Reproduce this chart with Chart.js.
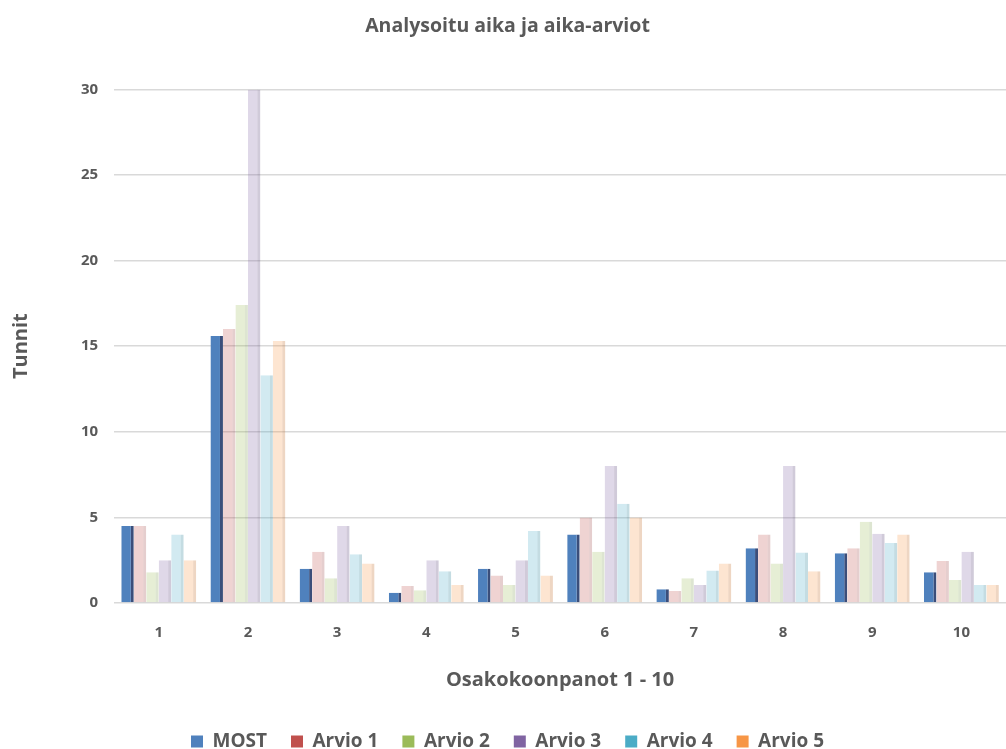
<!DOCTYPE html>
<html>
<head>
<meta charset="utf-8">
<script src="https://cdn.jsdelivr.net/npm/chart.js@4/dist/chart.umd.min.js"></script>
<style>
  html, body { margin: 0; padding: 0; background: #fff; }
  #wrap { width: 1006px; height: 749px; }
</style>
</head>
<body>
<div id="wrap"><canvas id="chart"></canvas></div>
<script>
const CATEGORIES = ['1', '2', '3', '4', '5', '6', '7', '8', '9', '10'];
const MOST   = [4.5, 15.6, 2.0, 0.6, 2.0, 4.0, 0.8, 3.2, 2.9, 1.8];
const ARVIO1 = [4.5, 16.0, 3.0, 1.0, 1.6, 5.0, 0.7, 4.0, 3.2, 2.45];
const ARVIO2 = [1.8, 17.4, 1.45, 0.75, 1.05, 3.0, 1.45, 2.3, 4.75, 1.35];
const ARVIO3 = [2.5, 30.0, 4.5, 2.5, 2.5, 8.0, 1.05, 8.0, 4.05, 3.0];
const ARVIO4 = [4.0, 13.3, 2.85, 1.85, 4.2, 5.8, 1.9, 2.95, 3.5, 1.05];
const ARVIO5 = [2.5, 15.3, 2.3, 1.05, 1.6, 5.0, 2.3, 1.85, 4.0, 1.05];
const Y_TICKS = [0, 5, 10, 15, 20, 25, 30];

const TEXT = '#595959';

// solid colour (legend), pale fill (bars), side colour
const SERIES = [
  { label: 'MOST',    data: MOST,   solid: '#4F81BD', fill: '#4F81BD', side: '#3B4E7A' },
  { label: 'Arvio 1', data: ARVIO1, solid: '#C0504D', fill: 'rgba(192,80,77,0.25)',  side: 'rgba(150,60,58,0.25)' },
  { label: 'Arvio 2', data: ARVIO2, solid: '#9BBB59', fill: 'rgba(155,187,89,0.25)', side: 'rgba(120,150,70,0.25)' },
  { label: 'Arvio 3', data: ARVIO3, solid: '#8064A2', fill: 'rgba(128,100,162,0.25)', side: 'rgba(100,78,130,0.3)' },
  { label: 'Arvio 4', data: ARVIO4, solid: '#4BACC6', fill: 'rgba(75,172,198,0.25)', side: 'rgba(60,140,160,0.3)' },
  { label: 'Arvio 5', data: ARVIO5, solid: '#F79646', fill: 'rgba(247,150,70,0.25)', side: 'rgba(200,120,55,0.3)' },
];

const ctx = document.getElementById('chart');

new Chart(ctx, {
  type: 'bar',
  data: {
    labels: CATEGORIES,
    datasets: SERIES.map((s) => ({
      label: s.label,
      data: s.data,
      backgroundColor: s.fill,
      borderColor: s.side,
      borderWidth: { top: 0, left: 0, bottom: 0, right: 3 },
      borderSkipped: false,
      barPercentage: 1.0,
      categoryPercentage: 0.84,
    })),
  },
  options: {
    responsive: true,
    maintainAspectRatio: false,
    animation: false,
    layout: { padding: { left: 9, right: 0, top: 0, bottom: -12 } },
    plugins: {
      title: {
        display: true,
        text: 'Analysoitu aika ja aika-arviot',
        color: TEXT,
        font: { family: 'Open Sans', size: 19.5, weight: 'bold' },
        padding: { top: 15, bottom: 51 },
      },
      legend: {
        position: 'bottom',
        labels: {
          color: TEXT,
          font: { family: 'Open Sans', size: 19, weight: 'bold' },
          boxWidth: 12,
          boxHeight: 12,
          padding: 24,
          generateLabels: (chart) => chart.data.datasets.map((ds, i) => ({
            text: ds.label,
            fillStyle: SERIES[i].solid,
            strokeStyle: SERIES[i].solid,
            lineWidth: 0,
            fontColor: TEXT,
            hidden: !chart.isDatasetVisible(i),
            datasetIndex: i,
          })),
        },
      },
      tooltip: { enabled: false },
    },
    scales: {
      x: {
        grid: { display: false },
        border: { display: false },
        ticks: {
          color: TEXT,
          font: { family: 'Open Sans', size: 15, weight: 'bold' },
          padding: 13,
        },
        title: {
          display: true,
          text: 'Osakokoonpanot 1 - 10',
          color: TEXT,
          font: { family: 'Open Sans', size: 20, weight: 'bold' },
          padding: { top: 13, bottom: 16 },
        },
      },
      y: {
        min: 0,
        max: 30,
        afterBuildTicks: (axis) => { axis.ticks = Y_TICKS.map((v) => ({ value: v })); },
        grid: { color: '#D9D9D9', lineWidth: 1.5, drawTicks: false },
        border: { display: false },
        ticks: {
          color: TEXT,
          font: { family: 'Open Sans', size: 15, weight: 'bold' },
          padding: 16,
        },
        title: {
          display: true,
          text: 'Tunnit',
          color: TEXT,
          font: { family: 'Open Sans', size: 20, weight: 'bold' },
          padding: { top: 0, bottom: 32 },
        },
      },
    },
  },
});
</script>
</body>
</html>
